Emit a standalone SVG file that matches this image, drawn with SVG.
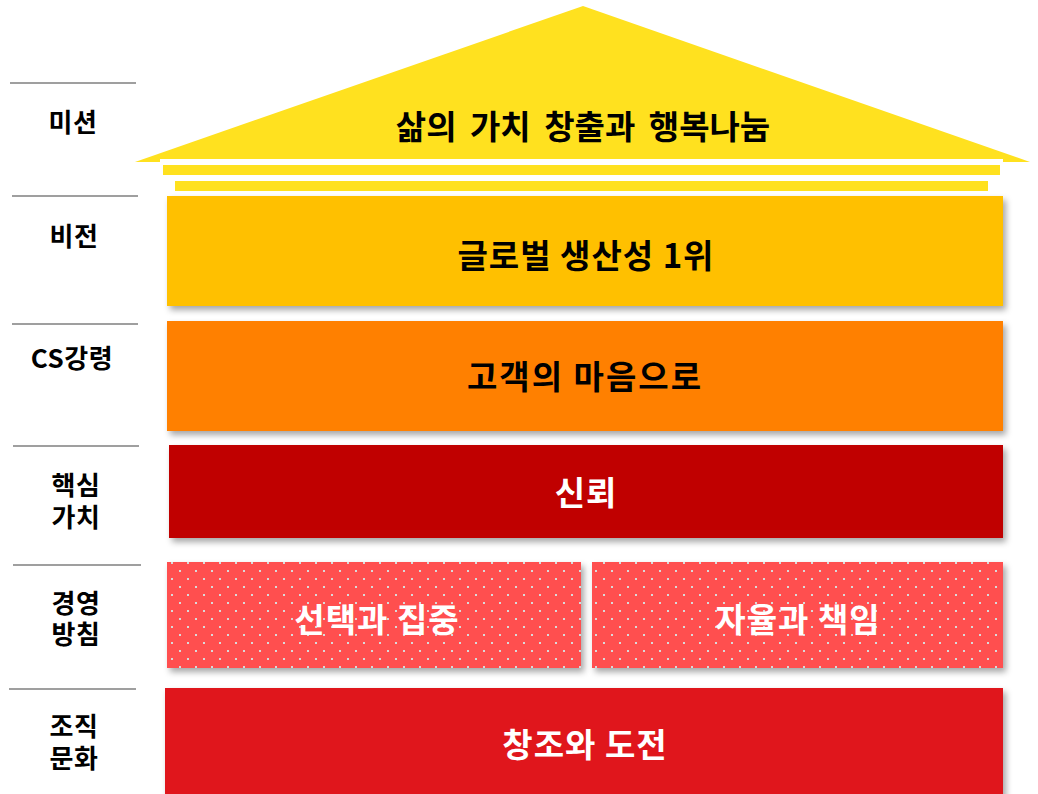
<svg xmlns="http://www.w3.org/2000/svg" width="1038" height="794" viewBox="0 0 1038 794">
<defs>
<style>
.lbl{font-family:"Noto Sans CJK KR","Noto Sans",sans-serif;font-size:26px;font-weight:bold;fill:#000;text-anchor:middle;letter-spacing:0.5px}
.main{font-family:"Noto Sans CJK KR","Noto Sans",sans-serif;font-size:33px;font-weight:bold;text-anchor:middle;letter-spacing:1px}
.blk{fill:#000}
.wht{fill:#fff}
.sep{stroke:#7f7f7f;stroke-width:1.5}
.roof{fill:#FFE11F}
</style>
<filter id="sh" x="-5%" y="-10%" width="112%" height="130%">
<feDropShadow dx="3" dy="4" stdDeviation="3" flood-color="#000" flood-opacity="0.35"/>
</filter>
<pattern id="dots" width="16" height="16" patternUnits="userSpaceOnUse" x="171" y="562">
<rect width="16" height="16" fill="#FF5050"/>
<rect x="0" y="0" width="2" height="2" fill="#D9D9D9"/>
<rect x="8" y="8" width="2" height="2" fill="#D9D9D9"/>
</pattern>
</defs>
<rect width="1038" height="794" fill="#fff"/>
<g id="labels">
<line class="sep" x1="10" y1="83" x2="136" y2="83"/>
<line class="sep" x1="12" y1="196" x2="138" y2="196"/>
<line class="sep" x1="12" y1="324" x2="138" y2="324"/>
<line class="sep" x1="13" y1="446" x2="139" y2="446"/>
<line class="sep" x1="13" y1="565" x2="141" y2="565"/>
<line class="sep" x1="9" y1="689" x2="136" y2="689"/>
<text class="lbl" x="73" y="132">미션</text>
<text class="lbl" x="74" y="246">비전</text>
<text class="lbl" x="72" y="368">CS강령</text>
<text class="lbl"><tspan x="76" y="495">핵심</tspan><tspan x="76" y="527">가치</tspan></text>
<text class="lbl"><tspan x="76" y="613">경영</tspan><tspan x="76" y="644">방침</tspan></text>
<text class="lbl"><tspan x="74" y="736">조직</tspan><tspan x="74" y="768">문화</tspan></text>
</g>
<g id="mission">
<polygon class="roof" points="583,6 1030,162 135,162"/>
<rect x="160" y="159" width="843" height="6" fill="#fff"/>
<rect class="roof" x="163" y="165" width="837" height="10"/>
<rect class="roof" x="175" y="181" width="813" height="10"/>
<text class="main blk" x="583" y="139" style="font-size:33px;letter-spacing:0" word-spacing="6">삶의 가치 창출과 행복나눔</text>
</g>
<g id="vision">
<rect x="167" y="196" width="836" height="110" fill="#FFC000" filter="url(#sh)"/>
<text class="main blk" x="586" y="268">글로벌 생산성 1위</text>
</g>
<g id="cs">
<rect x="167" y="321" width="836" height="110" fill="#FF8000" filter="url(#sh)"/>
<text class="main blk" x="585" y="389" style="letter-spacing:2px">고객의 마음으로</text>
</g>
<g id="core">
<rect x="169" y="445" width="834" height="93" fill="#C00000" filter="url(#sh)"/>
<text class="main wht" x="586" y="505">신뢰</text>
</g>
<g id="policy1">
<rect x="167" y="562" width="414" height="106" fill="url(#dots)" filter="url(#sh)"/>
<text class="main wht" x="377" y="632">선택과 집중</text>
</g>
<g id="policy2">
<rect x="592" y="562" width="411" height="106" fill="url(#dots)" filter="url(#sh)"/>
<text class="main wht" x="798" y="632">자율과 책임</text>
</g>
<g id="culture">
<rect x="165" y="688" width="838" height="110" fill="#E0181F" filter="url(#sh)"/>
<text class="main wht" x="585" y="757">창조와 도전</text>
</g>
<g id="connectors"></g>
</svg>
